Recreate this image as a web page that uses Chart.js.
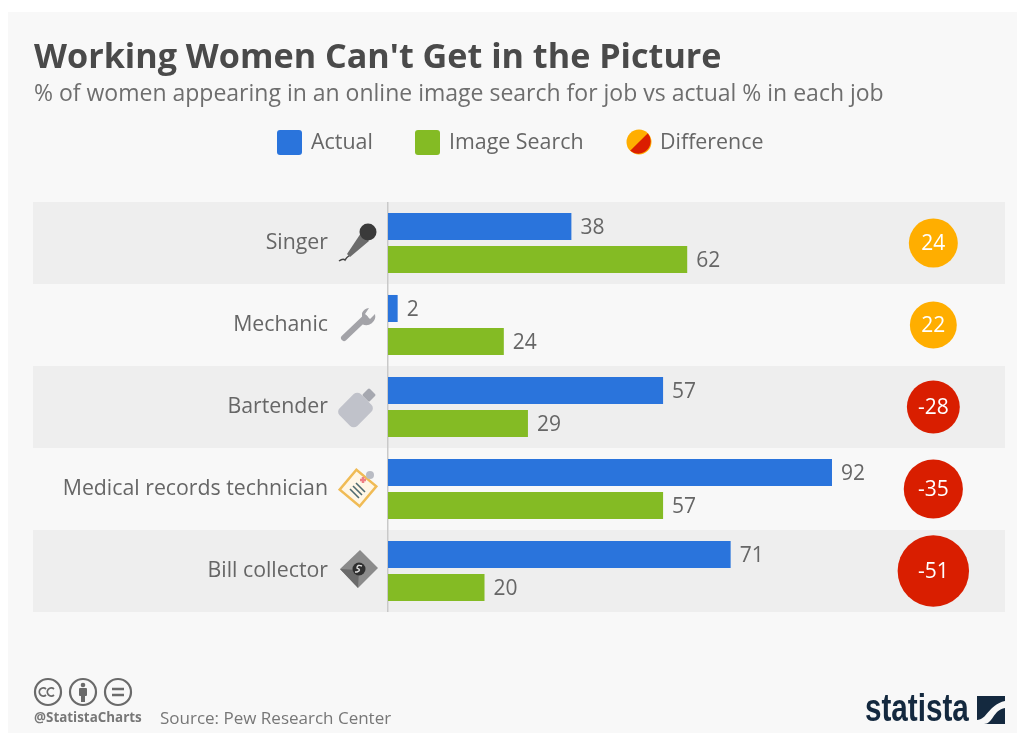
<!DOCTYPE html>
<html>
<head>
<meta charset="utf-8">
<script src="https://cdn.jsdelivr.net/npm/chart.js@4"></script>
<style>
html, body { margin: 0; padding: 0; background: #fff; }
body { width: 1017px; height: 733px; overflow: hidden; position: relative; font-family: "Open Sans", sans-serif; color: #666; }
#card { position: absolute; left: 8px; top: 12px; right: 0; bottom: 0; background: #f8f8f8; }
#chartBox { position: absolute; left: 0; top: 0; width: 1017px; height: 733px; }
.txt { position: absolute; white-space: nowrap; line-height: 1; }
#title { left: 34px; top: 38px; font-size: 34.15px; font-weight: 700; color: #4a4a4a; }
#subtitle { left: 34px; top: 81px; font-size: 23px; color: #6e6e6e; }
.swatch { position: absolute; top: 130px; width: 25px; height: 25px; border-radius: 3px; }
.legtxt { top: 130px; font-size: 21.4px; color: #666; }
.icon { position: absolute; }
#handle { left: 34px; top: 711px; font-size: 13.4px; font-weight: 700; color: #777; }
#source { left: 160px; top: 709px; font-size: 17px; color: #777; }
#logo { left: 865px; top: 689px; font-family: "Liberation Sans", sans-serif; font-size: 38px; font-weight: 700; color: #14293f; transform-origin: left top; transform: scaleX(.78); }
</style>
</head>
<body>
<div id="card"></div>
<div id="chartBox"><canvas id="womenChart" width="1017" height="733"></canvas></div>

<div class="txt" id="title">Working Women Can't Get in the Picture</div>
<div class="txt" id="subtitle">% of women appearing in an online image search for job vs actual % in each job</div>

<div class="swatch" style="left:277px;background:#2a74dc"></div>
<div class="txt legtxt" style="left:311px">Actual</div>
<div class="swatch" style="left:415px;background:#84bb24"></div>
<div class="txt legtxt" style="left:449px">Image Search</div>
<svg class="icon" style="left:626px;top:129px" width="26" height="26" viewBox="0 0 26 26">
  <circle cx="13" cy="13" r="12.5" fill="#ffae00"/>
  <path d="M4.2 21.8 A12.5 12.5 0 0 0 21.8 4.2 Z" fill="#db1e00"/>
</svg>
<div class="txt legtxt" style="left:660px">Difference</div>

<!-- job icons -->
<svg class="icon" style="left:338px;top:222px" width="42" height="42" viewBox="0 0 42 42">
  <path d="M1 39 q4 -3 6 -1 q2 -3 5 -5" fill="none" stroke="#444" stroke-width="1.5"/>
  <path d="M9 32 L23 11 L31 19 L12 35 Z" fill="#6b6b6b"/>
  <circle cx="30" cy="10" r="8.5" fill="#3a3a3a"/>
</svg>
<svg class="icon" style="left:338px;top:305px" width="40" height="40" viewBox="0 0 40 40">
  <line x1="6" y1="33" x2="27" y2="13" stroke="#a3a3a8" stroke-width="6" stroke-linecap="round"/>
  <path d="M24 8 a9 9 0 0 1 7 -5 l-4 6 l5 5 l5 -5 a9 9 0 0 1 -13 10 z" fill="#a3a3a8"/>
</svg>
<svg class="icon" style="left:337px;top:386px" width="42" height="42" viewBox="0 0 42 42">
  <rect x="6" y="9" width="25" height="30" rx="5" transform="rotate(45 18.5 24)" fill="#c0c2ca"/>
  <rect x="27" y="4" width="10" height="10" rx="1.5" transform="rotate(45 32 9)" fill="#a6a8b0"/>
</svg>
<svg class="icon" style="left:337px;top:467px" width="42" height="42" viewBox="0 0 42 42">
  <rect x="8" y="8" width="26" height="26" transform="rotate(45 21 21) rotate(-5 21 21)" fill="#fff6e6" stroke="#f0bb55" stroke-width="2.5"/>
  <path d="M13 22 l9 9 M16 19 l9 9 M19 16 l9 9" stroke="#4e6a70" stroke-width="1.6"/>
  <path d="M23 13 h6 M26 10 v6" stroke="#ef7f86" stroke-width="2.5"/>
  <circle cx="33" cy="8" r="4" fill="#b9bcc4"/>
</svg>
<svg class="icon" style="left:338px;top:548px" width="42" height="42" viewBox="0 0 42 42">
  <path d="M2 21 L22 2 L40 20 L20 40 Z" fill="#8b8b8b"/>
  <path d="M2 21 L21 22 L20 40 Z" fill="#6a6a6a"/>
  <circle cx="21" cy="21" r="6.5" fill="#2f2f2f"/>
  <path d="M24 18 q-5 -2 -5 2 q5 2 0 4 h-2" fill="none" stroke="#ddd" stroke-width="1.4"/>
</svg>

<!-- footer -->
<svg class="icon" style="left:33px;top:677px" width="102" height="30" viewBox="0 0 102 30" fill="none" stroke="#6a6a6a" stroke-width="2.2">
  <circle cx="15" cy="15" r="13"/>
  <circle cx="50" cy="15" r="13"/>
  <circle cx="85" cy="15" r="13"/>
  <path d="M13 12 a4 4 0 1 0 0 6 M21 12 a4 4 0 1 0 0 6" stroke-width="1.8"/>
  <circle cx="50" cy="8" r="2.3" fill="#6a6a6a" stroke="none"/>
  <rect x="46" y="11" width="8" height="8" rx="1" fill="#6a6a6a" stroke="none"/>
  <rect x="48" y="18" width="4" height="7" fill="#6a6a6a" stroke="none"/>
  <path d="M79 12 h12 M79 18 h12" stroke-width="2.6"/>
</svg>
<div class="txt" id="handle">@StatistaCharts</div>
<div class="txt" id="source">Source: Pew Research Center</div>
<div class="txt" id="logo">statista</div>
<svg class="icon" style="left:977px;top:696px" width="28" height="28" viewBox="0 0 28 28">
  <rect width="28" height="28" fill="#14293f"/>
  <path d="M0 24 C10 24 11 9 28 5 V12 C16 14 16 28 7 28 H0 Z" fill="#f8f8f8"/>
</svg>

<script>
// data
const jobs = ['Singer', 'Mechanic', 'Bartender', 'Medical records technician', 'Bill collector'];
const actual = [38, 2, 57, 92, 71];
const imageSearch = [62, 24, 29, 57, 20];
const difference = [24, 22, -28, -35, -51];

const BLUE = '#2a74dc';
const GREEN = '#84bb24';
const ORANGE = '#ffae00';
const RED = '#d91e00';
const DIFF_COLUMN = 113; // x position of the difference bubbles, in axis units

// grey bands behind every other row + the axis line
const bandsPlugin = {
    id: 'bands',
    beforeDraw(chart) {
        const ctx = chart.ctx;
        const y = chart.scales.y;
        const area = chart.chartArea;
        const rowH = y.getPixelForValue(1) - y.getPixelForValue(0);
        ctx.save();
        ctx.fillStyle = '#eeeeee';
        jobs.forEach(function (job, i) {
            if (i % 2 === 0) {
                ctx.fillRect(33, y.getPixelForValue(i) - rowH / 2, area.right - 33, rowH);
            }
        });
        ctx.fillStyle = '#c9c9c9';
        ctx.fillRect(area.left - 1, area.top, 1.5, area.bottom - area.top);
        ctx.restore();
    }
};

// value labels next to the bars and inside the bubbles
const labelsPlugin = {
    id: 'valueLabels',
    afterDatasetsDraw(chart) {
        const ctx = chart.ctx;
        ctx.save();
        ctx.font = '21px "Open Sans"';
        ctx.textBaseline = 'middle';
        chart.data.datasets.forEach(function (ds, d) {
            const meta = chart.getDatasetMeta(d);
            meta.data.forEach(function (el, i) {
                if (ds.type === 'bubble') {
                    ctx.fillStyle = '#fff';
                    ctx.textAlign = 'center';
                    ctx.fillText(difference[i], el.x, el.y + 1);
                } else {
                    ctx.fillStyle = '#666';
                    ctx.textAlign = 'left';
                    ctx.fillText(ds.data[i], el.x + 9, el.y + 1.5);
                }
            });
        });
        ctx.restore();
    }
};

document.addEventListener("DOMContentLoaded", function () {
    const canvas = document.getElementById("womenChart");
    const ctx = canvas.getContext("2d");

    new Chart(ctx, {
        data: {
            labels: jobs,
            datasets: [
                { type: 'bar', label: 'Actual', data: actual, backgroundColor: BLUE, indexAxis: 'y',
                  categoryPercentage: 0.805, barPercentage: 0.82 },
                { type: 'bar', label: 'Image Search', data: imageSearch, backgroundColor: GREEN, indexAxis: 'y',
                  categoryPercentage: 0.805, barPercentage: 0.82 },
                {
                    type: 'bubble',
                    label: 'Difference',
                    // bubble area follows the size of the difference
                    data: difference.map(function (d, i) {
                        return { x: DIFF_COLUMN, y: jobs[i], r: 5 * Math.sqrt(Math.abs(d)) };
                    }),
                    backgroundColor: difference.map(function (d) { return d > 0 ? ORANGE : RED; }),
                    borderWidth: 0,
                    hoverBorderWidth: 0
                }
            ]
        },
        options: {
            indexAxis: 'y',
            responsive: false,
            animation: false,
            // autoPadding would pull the plot in to make room for the biggest bubble
            layout: { autoPadding: false, padding: { top: 202, bottom: 121, right: 12, left: 0 } },
            plugins: { legend: { display: false }, title: { display: false }, tooltip: { enabled: false } },
            scales: {
                x: { type: 'linear', min: 0, max: 127.85, display: false, grid: { display: false } },
                y: {
                    type: 'category',
                    offset: true,
                    grid: { display: false },
                    border: { display: false },
                    ticks: { color: '#666', font: { size: 21.3, family: '"Open Sans"' }, padding: 52, autoSkip: false },
                    afterFit(scale) { scale.width = 388; }
                }
            }
        },
        plugins: [bandsPlugin, labelsPlugin]
    });
});
</script>
</body>
</html>
